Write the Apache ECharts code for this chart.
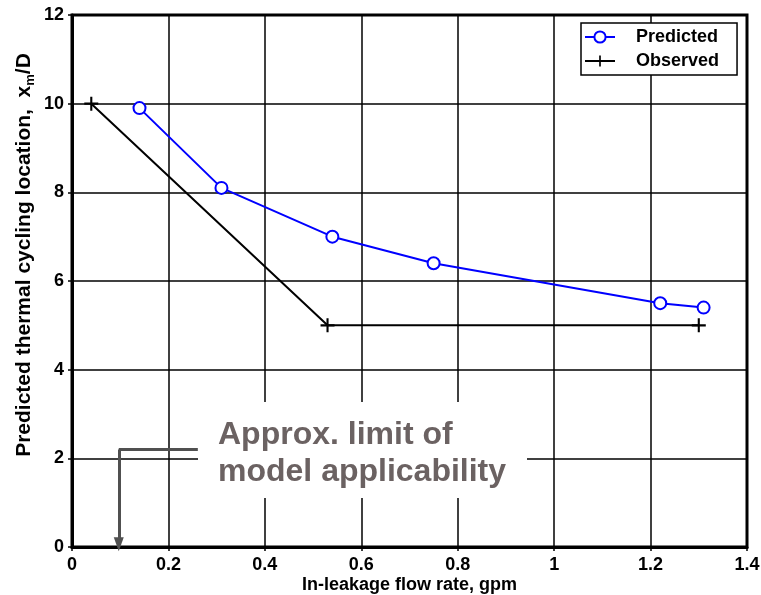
<!DOCTYPE html>
<html>
<head>
<meta charset="utf-8">
<script src="https://cdn.jsdelivr.net/npm/echarts@6/dist/echarts.min.js"></script>
<style>
  html, body { margin: 0; padding: 0; background: #fff; }
  #chart { width: 761px; height: 595px; }
</style>
</head>
<body>
<div id="chart"></div>
<script>
// data
const predictedX = [0.14, 0.31, 0.54, 0.75, 1.22, 1.31];
const predictedY = [9.9, 8.1, 7.0, 6.4, 5.5, 5.4];
const observedX = [0.04, 0.53, 1.30];
const observedY = [10, 5, 5];
// annotation arrow (data coords)
const arrowX = [0.261, 0.097, 0.097];
const arrowY = [2.2, 2.2, 0.06];

const font = 'Liberation Sans, Arial, sans-serif';
const plus = 'path://M-1.5,-10 L1.5,-10 L1.5,10 L-1.5,10 Z M-10,-1.5 L10,-1.5 L10,1.5 L-10,1.5 Z';

const chart = echarts.init(document.getElementById('chart'));

chart.setOption({
  animation: false,
  backgroundColor: '#fff',
  grid: {
    left: 72, right: 14, top: 15, bottom: 48,
    outerBoundsMode: 'none',
    show: true, borderColor: '#000', borderWidth: 3
  },
  legend: {
    left: 581, top: 23,
    orient: 'vertical',
    backgroundColor: '#fff',
    borderColor: '#000', borderWidth: 1.5, borderRadius: 0,
    padding: [5, 18, 5, 3],
    itemWidth: 30, itemHeight: 14, itemGap: 6,
    textStyle: { fontFamily: font, fontWeight: 'bold', fontSize: 18, color: '#000', padding: [0, 0, 0, 16] },
    data: ['Predicted', 'Observed']
  },
  xAxis: {
    type: 'value', min: 0, max: 1.4, interval: 0.2,
    name: 'In-leakage flow rate, gpm',
    nameLocation: 'middle', nameGap: 29, nameMoveOverlap: false,
    nameTextStyle: { fontFamily: font, fontWeight: 'bold', fontSize: 18, color: '#000' },
    axisLine: { show: true, lineStyle: { color: '#000', width: 3 } },
    axisTick: { show: true, length: 4, lineStyle: { color: '#000', width: 1.5 } },
    axisLabel: {
      fontFamily: font, fontWeight: 'bold', fontSize: 18, color: '#000', margin: 9,
      formatter: v => (Math.round(v * 10) / 10).toString()
    },
    splitLine: { show: true, lineStyle: { color: '#000', width: 1.5 } }
  },
  yAxis: {
    type: 'value', min: 0, max: 12, interval: 2,
    name: '{a|Predicted thermal cycling location,  x}{s|m}{a|/D}',
    nameLocation: 'middle', nameGap: 35, nameRotate: 90, nameMoveOverlap: false,
    nameTextStyle: {
      padding: [0, 0, 0, 52],
      rich: {
        a: { fontFamily: font, fontWeight: 'bold', fontSize: 21, color: '#000' },
        s: { fontFamily: font, fontWeight: 'bold', fontSize: 13, color: '#000', verticalAlign: 'bottom', padding: [12, 0, 0, 0] }
      }
    },
    axisLine: { show: true, lineStyle: { color: '#000', width: 3 } },
    axisTick: { show: true, length: 4, lineStyle: { color: '#000', width: 1.5 } },
    axisLabel: { fontFamily: font, fontWeight: 'bold', fontSize: 18, color: '#000', margin: 8 },
    splitLine: { show: true, lineStyle: { color: '#000', width: 1.5 } }
  },
  series: [
    {
      name: 'Predicted', type: 'line',
      data: predictedX.map((x, i) => [x, predictedY[i]]),
      symbol: 'emptyCircle', symbolSize: 12,
      lineStyle: { color: '#0000ff', width: 2 },
      itemStyle: { color: '#0000ff', borderColor: '#0000ff', borderWidth: 2.2 },
      z: 3
    },
    {
      name: 'Observed', type: 'line',
      data: observedX.map((x, i) => [x, observedY[i]]),
      symbol: plus, symbolSize: 14, symbolKeepAspect: true,
      lineStyle: { color: '#000', width: 2 },
      itemStyle: { color: '#000' },
      z: 3
    },
    {
      name: 'arrow', type: 'line', data: [],
      silent: true,
      markLine: {
        silent: true, animation: false,
        symbol: ['none', 'none'],
        lineStyle: { color: '#505050', width: 3, type: 'solid' },
        label: { show: false },
        data: [
          [{ coord: [arrowX[0], arrowY[0]] }, { coord: [arrowX[1], arrowY[1]] }],
          [{ coord: [arrowX[1], arrowY[1]] }, { coord: [arrowX[2], arrowY[2]], symbol: 'triangle', symbolSize: [10, 14], symbolRotate: 180 }]
        ]
      }
    }
  ],
  graphic: [
    {
      type: 'rect', left: 198, top: 402, z: 50,
      shape: { width: 329, height: 96 },
      style: { fill: '#fff' }
    },
    {
      type: 'text', left: 218, top: 417, z: 51,
      style: {
        text: 'Approx. limit of\nmodel applicability',
        font: 'bold 32px ' + font,
        fill: '#6b6262',
        lineHeight: 37
      }
    }
  ]
});
</script>
</body>
</html>
